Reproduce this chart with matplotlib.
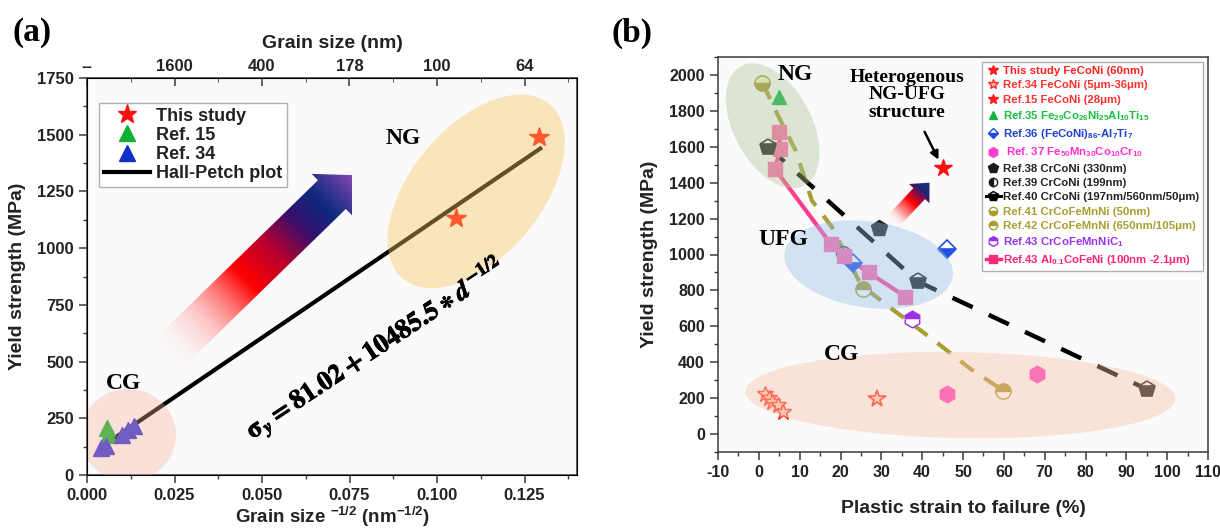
import numpy as np
import matplotlib.pyplot as plt
from matplotlib.patches import Polygon
from matplotlib.lines import Line2D
from matplotlib.colors import LinearSegmentedColormap
from matplotlib.ticker import MultipleLocator
import matplotlib.patheffects as pe

plt.rcParams['font.family'] = ['Liberation Sans', 'DejaVu Sans']
plt.rcParams['font.weight'] = 'bold'
plt.rcParams['axes.labelweight'] = 'bold'
plt.rcParams['axes.unicode_minus'] = False
plt.rcParams['mathtext.fontset'] = 'custom'
plt.rcParams['mathtext.rm'] = 'Liberation Sans:bold'
plt.rcParams['mathtext.it'] = 'Liberation Sans:bold:italic'
plt.rcParams['mathtext.bf'] = 'Liberation Sans:bold'
plt.rcParams['mathtext.default'] = 'rm'

# ---- (a) Hall-Petch data: d^-1/2 (nm^-1/2) vs yield strength (MPa)
this_x = [0.1054, 0.1290]
this_y = [1133, 1488]
ref15_x = [0.0058, 0.0061]
ref15_y = [205, 178]
ref34_x = [0.0040, 0.0055, 0.0100, 0.0118, 0.0135]
ref34_y = [118, 128, 175, 198, 215]
hp_a, hp_k = 81.02, 10485.5
hp_x = [0.005, 0.1295]
top_ticks = [0, 0.025, 0.05, 0.075, 0.1, 0.125]

# ---- (b) plastic strain (%) vs yield strength (MPa)
study_e, study_s = [45], [1480]
r34_e = [1.5, 2.5, 3.2, 4.6, 6.0]
r34_s = [225, 200, 180, 160, 125]
r15_e, r15_s = [29], [195]
r35_e, r35_s = [5.0], [1880]
r36_e, r36_s = [46, 23], [1028, 955]
r37_e, r37_s = [46, 68], [222, 333]
r38_e, r38_s = [29.5], [1150]
r39_e, r39_s = [20.5], [1010]
r40_e, r40_s = [2.2, 38.9, 95], [1600, 850, 250]
r41_e, r41_s = [0.7], [1955]
r42_e, r42_s = [25.4, 59.7], [806, 239]
r43c_e, r43c_s = [37.6], [639]
r43a_e = [4.9, 5.2, 4.0, 17.6, 20.8, 26.9, 35.9]
r43a_s = [1680, 1590, 1475, 1060, 990, 900, 765]
guide_e = [1, 5, 9, 13, 18, 25, 33, 43, 52, 60]
guide_s = [1950, 1760, 1580, 1300, 1150, 830, 690, 520, 360, 240]

fig = plt.figure(figsize=(12.2, 5.31), dpi=100, facecolor='white')


def box(l, t, r, b):
    return [l / 1220, 1 - b / 531, (r - l) / 1220, (b - t) / 531]


axa = fig.add_axes(box(87, 78, 577, 475))
axb = fig.add_axes(box(718, 57, 1208, 452))
for ax in (axa, axb):
    ax.set_facecolor('#fafafa')
    for s in ax.spines.values():
        s.set_color('#3a3a3a')
        s.set_linewidth(1.1)

axa.set_xlim(0, 0.14)
axa.set_ylim(0, 1750)
axb.set_xlim(-10, 110)
axb.set_ylim(-100, 2100)
axa.set_autoscale_on(False)
axb.set_autoscale_on(False)


def blob(ax, cx, cy, w, h, ang, color, alpha):
    # ellipse centred in data units, sized in screen pixels
    t = np.linspace(0, 2 * np.pi, 240)
    X0, Y0 = ax.transData.transform((cx, cy))
    a = np.deg2rad(ang)
    xs, ys = w / 2 * np.cos(t), h / 2 * np.sin(t)
    pts = np.column_stack([X0 + xs * np.cos(a) - ys * np.sin(a),
                           Y0 + xs * np.sin(a) + ys * np.cos(a)])
    ax.add_patch(Polygon(ax.transData.inverted().transform(pts), closed=True,
                         fc=color, ec='none', alpha=alpha, zorder=5))


def gradient_arrow(ax, tail, tip, shaft, head_w, head_l, stops):
    p0 = ax.transData.transform(tail)
    p1 = ax.transData.transform(tip)
    v = p1 - p0
    L = np.hypot(*v)
    u = v / L
    n = np.array([-u[1], u[0]])
    b = p1 - u * head_l
    pts = np.array([p0 + n * shaft / 2, b + n * shaft / 2, b + n * head_w / 2, p1,
                    b - n * head_w / 2, b - n * shaft / 2, p0 - n * shaft / 2])
    inv = ax.transData.inverted()
    poly = Polygon(inv.transform(pts), closed=True, fc='none', ec='none')
    ax.add_patch(poly)
    lo, hi = pts.min(0), pts.max(0)
    GX, GY = np.meshgrid(np.linspace(lo[0], hi[0], 300), np.linspace(lo[1], hi[1], 300))
    t = ((GX - p0[0]) * u[0] + (GY - p0[1]) * u[1]) / L
    cmap = LinearSegmentedColormap.from_list('grad', stops)
    rgba = cmap(np.clip(t, 0, 1))
    (x0, y0), (x1, y1) = inv.transform([lo, hi])
    im = ax.imshow(rgba, extent=[x0, x1, y0, y1], origin='lower', aspect='auto',
                   zorder=4, interpolation='bilinear')
    im.set_clip_path(poly)


# ================= (a) =================
hx = np.array(hp_x)
axa.plot(hx, hp_a + hp_k * hx, color='black', lw=3, zorder=3)
axa.plot(this_x, this_y, ls='none', marker='*', color='#ff1010', ms=15, zorder=4)
axa.plot(ref15_x, ref15_y, ls='none', marker='^', color='#10b030', ms=12, zorder=4)
axa.plot(ref34_x, ref34_y, ls='none', marker='^', color='#2a30d8', ms=12, zorder=4)

blob(axa, 0.1112, 1250, 228, 130, 50, '#f9c660', 0.4)
blob(axa, 0.0117, 176, 96, 92, 0, '#f8b09a', 0.35)

gradient_arrow(axa, (0.0229, 529), (0.0757, 1322), 40, 58, 28,
               [(0.0, (1, 0.9, 0.9, 0.0)), (0.2, (1, 0.6, 0.6, 0.55)),
                (0.42, (1, 0, 0, 1)), (0.58, (0.72, 0, 0.18, 1)),
                (0.72, (0.22, 0.06, 0.42, 1)), (0.84, (0.05, 0.16, 0.5, 1)),
                (1.0, (0.5, 0.28, 0.68, 1))])
axa.set_xlim(0, 0.14)
axa.set_ylim(0, 1750)

axa.text(0.0903, 1485, 'NG', family='Liberation Serif', fontsize=17,
         ha='center', va='center', zorder=7)
axa.text(0.0103, 405, 'CG', family='Liberation Serif', fontsize=17,
         ha='center', va='center', zorder=7)
axa.text(0.0825, 555, r'$\sigma_{\mathit{y}} = 81.02 + 10485.5 \ast \mathit{d}^{-1/2}$',
         math_fontfamily='stix', fontsize=19, rotation=33.5, ha='center', va='center',
         rotation_mode='anchor', zorder=7,
         path_effects=[pe.withStroke(linewidth=0.6, foreground='black')])

axa.xaxis.set_major_locator(MultipleLocator(0.025))
axa.xaxis.set_minor_locator(MultipleLocator(0.0125))
axa.yaxis.set_major_locator(MultipleLocator(250))
axa.yaxis.set_minor_locator(MultipleLocator(125))
axa.xaxis.set_major_formatter(lambda v, p: f'{v:.3f}')
axa.tick_params(which='both', direction='out', colors='#3a3a3a', labelcolor='#222',
                labelsize=12)
axa.tick_params(which='major', length=6, width=1.1)
axa.tick_params(which='minor', length=3, width=1.0)
axa.set_xlabel('Grain size $^{-1/2}$ (nm$^{-1/2}$)', fontsize=13.5, color='#222', labelpad=1)
axa.set_ylabel('Yield strength (MPa)', fontsize=14, color='#222', labelpad=8)

top = axa.twiny()
top.set_xlim(axa.get_xlim())
top.set_xticks(top_ticks)
top.set_xticklabels(['--' if v == 0 else f'{1 / v ** 2:.0f}' for v in top_ticks])
top.xaxis.set_minor_locator(MultipleLocator(0.0125))
top.tick_params(which='both', direction='in', colors='#3a3a3a', labelcolor='#222',
                labelsize=12, pad=3)
top.tick_params(which='major', length=6, width=1.1)
top.tick_params(which='minor', length=3)
top.set_xlabel('Grain size (nm)', fontsize=14, color='#222', labelpad=8)

leg_a = axa.legend(
    [Line2D([], [], ls='none', marker='*', color='#ff1010', ms=14),
     Line2D([], [], ls='none', marker='^', color='#10b030', ms=12),
     Line2D([], [], ls='none', marker='^', color='#1030c8', ms=12),
     Line2D([], [], color='black', lw=3)],
    ['This study', 'Ref. 15', 'Ref. 34', 'Hall-Petch plot'],
    loc='upper left', bbox_to_anchor=(0.0245, 0.937), borderaxespad=0,
    fontsize=13, handlelength=2.6, handletextpad=0.3, labelspacing=0.12,
    borderpad=0.25, fancybox=False, edgecolor='#b0b0b0', framealpha=1)
leg_a.get_frame().set_linewidth(1.0)
leg_a.set_zorder(10)
for t in leg_a.get_texts():
    t.set_color('#222')

# ================= (b) =================
axb.plot(guide_e, guide_s, color='#a69d35', lw=3, dashes=(4, 3), zorder=2)
axb.plot(r40_e, r40_s, color='black', lw=3.2, dashes=(5, 4), zorder=2)
axb.plot(r43a_e, r43a_s, color='#ff3d8f', lw=3, zorder=2)
axb.plot(r43a_e, r43a_s, ls='none', marker='s', color='#ff6aa8', ms=10, zorder=4)
axb.plot(r40_e, r40_s, ls='none', marker='p', color='#1a1a1a', fillstyle='bottom',
         markerfacecoloralt='white', ms=12, mew=1.2, zorder=4)
axb.plot(r38_e, r38_s, ls='none', marker='p', color='#1a1a1a', ms=12, zorder=4)
axb.plot(r39_e, r39_s, ls='none', marker='o', color='#555555', fillstyle='none',
         ms=10, mew=1.2, zorder=3)
axb.plot(r41_e, r41_s, ls='none', marker='o', color='#9d9530', fillstyle='bottom',
         markerfacecoloralt='#f4f0c0', ms=11, zorder=4)
axb.plot(r42_e, r42_s, ls='none', marker='o', color='#a99a35', fillstyle='top',
         markerfacecoloralt='white', ms=11, zorder=4)
axb.plot(r35_e, r35_s, ls='none', marker='^', color='#10b040', ms=10, zorder=4)
axb.plot(r36_e, r36_s, ls='none', marker='D', color='#1f4fe0', fillstyle='bottom',
         markerfacecoloralt='white', ms=9, mew=1.2, zorder=3)
axb.plot(r37_e, r37_s, ls='none', marker='h', color='#ff40c8', ms=12, zorder=4)
axb.plot(r43c_e, r43c_s, ls='none', marker='h', color='#9b30e8', fillstyle='top',
         markerfacecoloralt='white', ms=12, zorder=4)
axb.plot(r34_e, r34_s, ls='none', marker='*', mfc='#ffd0c0', mec='#ff3020', ms=12,
         mew=1.0, zorder=4)
axb.plot(r15_e, r15_s, ls='none', marker='*', mfc='#ffd0c0', mec='#ff3020', ms=13,
         mew=1.2, zorder=4)
axb.plot(study_e, study_s, ls='none', marker='*', color='#ff1010', ms=13, zorder=4)

blob(axb, 3.4, 1717, 135, 78, -62, '#b0c699', 0.4)
blob(axb, 26.9, 944, 170, 86, -8, '#96bfe6', 0.4)
blob(axb, 49.4, 217, 430, 86, -1, '#f9bfa3', 0.4)

gradient_arrow(axb, (32.8, 1183), (41.8, 1400), 16, 28, 15,
               [(0.0, (1, 0.85, 0.85, 0.0)), (0.25, (1, 0.4, 0.4, 0.7)),
                (0.5, (1, 0, 0, 1)), (0.68, (0.55, 0.03, 0.28, 1)),
                (0.8, (0.1, 0.15, 0.45, 1)), (1.0, (0.12, 0.2, 0.5, 1))])
axb.set_xlim(-10, 110)
axb.set_ylim(-100, 2100)

for s, x, y in [('NG', 8.8, 2000), ('UFG', 5.9, 1083), ('CG', 20.3, 444)]:
    axb.text(x, y, s, family='Liberation Serif', fontsize=17, ha='center',
             va='center', zorder=7)
axb.text(36.2, 1889, 'Heterogenous\nNG-UFG\nstructure', family='Liberation Serif',
         fontsize=14, ha='center', va='center', linespacing=1.05, zorder=7)
axb.annotate('', xy=(44.0, 1528), xytext=(40.6, 1683), zorder=7,
             arrowprops=dict(arrowstyle='-|>', color='black', lw=1.8,
                             mutation_scale=12, shrinkA=0, shrinkB=0))

axb.xaxis.set_major_locator(MultipleLocator(10))
axb.xaxis.set_minor_locator(MultipleLocator(5))
axb.yaxis.set_major_locator(MultipleLocator(200))
axb.yaxis.set_minor_locator(MultipleLocator(100))
axb.tick_params(which='both', direction='out', colors='#3a3a3a', labelcolor='#222',
                labelsize=11.5)
axb.tick_params(which='major', length=6, width=1.1)
axb.tick_params(which='minor', length=3, width=1.0)
axb.set_xlabel('Plastic strain to failure (%)', fontsize=14, color='#222', labelpad=14)
axb.set_ylabel('Yield strength (MPa)', fontsize=14, color='#222', labelpad=8)

olive = '#a89e30'
handles_b = [
    Line2D([], [], ls='none', marker='*', color='#ff1a1a', ms=7),
    Line2D([], [], ls='none', marker='*', mfc='#ffb0a0', mec='#ff2a2a', ms=7),
    Line2D([], [], ls='none', marker='*', color='#ff1a1a', ms=7),
    Line2D([], [], ls='none', marker='^', color='#15b540', ms=6),
    Line2D([], [], ls='none', marker='D', color='#1f4fe0', fillstyle='bottom',
           markerfacecoloralt='white', ms=5),
    Line2D([], [], ls='none', marker='h', color='#ff3ccf', ms=7),
    Line2D([], [], ls='none', marker='p', color='#1a1a1a', ms=7),
    Line2D([], [], ls='none', marker='o', color='#1a1a1a', fillstyle='left',
           markerfacecoloralt='white', ms=6),
    Line2D([], [], color='black', lw=2.2, marker='p', fillstyle='bottom',
           markerfacecoloralt='white', ms=7),
    Line2D([], [], ls='none', marker='o', color=olive, fillstyle='bottom',
           markerfacecoloralt='white', ms=6),
    Line2D([], [], ls='none', marker='o', color=olive, fillstyle='top',
           markerfacecoloralt='white', ms=6),
    Line2D([], [], ls='none', marker='h', color='#9b30e8', fillstyle='top',
           markerfacecoloralt='white', ms=7),
    Line2D([], [], color='#ff2a7a', lw=2.5, marker='s', ms=6),
]
labels_b = [
    'This study FeCoNi (60nm)',
    'Ref.34 FeCoNi (5μm-36μm)',
    'Ref.15 FeCoNi (28μm)',
    'Ref.35 Fe$_{29}$Co$_{26}$Ni$_{25}$Al$_{10}$Ti$_{15}$',
    'Ref.36 (FeCoNi)$_{86}$-Al$_{7}$Ti$_{7}$',
    ' Ref. 37 Fe$_{50}$Mn$_{30}$Co$_{10}$Cr$_{10}$',
    'Ref.38 CrCoNi (330nm)',
    'Ref.39 CrCoNi (199nm)',
    'Ref.40 CrCoNi (197nm/560nm/50μm)',
    'Ref.41 CrCoFeMnNi (50nm)',
    'Ref.42 CrCoFeMnNi (650nm/105μm)',
    'Ref.43 CrCoFeMnNiC$_{1}$',
    'Ref.43 Al$_{0.1}$CoFeNi (100nm -2.1μm)',
]
colors_b = ['#ff2020', '#ff3030', '#ff3030', '#18c040', '#2040d0', '#ff30d0',
            '#222222', '#222222', '#222222', olive, olive, '#9933ee', '#ff2277']
leg_b = axb.legend(handles_b, labels_b, loc='upper left', bbox_to_anchor=(0.539, 0.987),
                   borderaxespad=0, fontsize=8.2, handlelength=1.3, handletextpad=0.2,
                   labelspacing=0.38, borderpad=0.35, fancybox=False,
                   edgecolor='#b0b0b0', framealpha=1)
leg_b.get_frame().set_linewidth(1.0)
leg_b.set_zorder(10)
for t, c in zip(leg_b.get_texts(), colors_b):
    t.set_color(c)

fig.text(32 / 1220, 1 - 33 / 531, '(a)', family='Liberation Serif', fontsize=24,
         ha='center', va='center')
fig.text(632 / 1220, 1 - 33 / 531, '(b)', family='Liberation Serif', fontsize=24,
         ha='center', va='center')

fig.savefig('out.png', dpi=100, facecolor='white')
